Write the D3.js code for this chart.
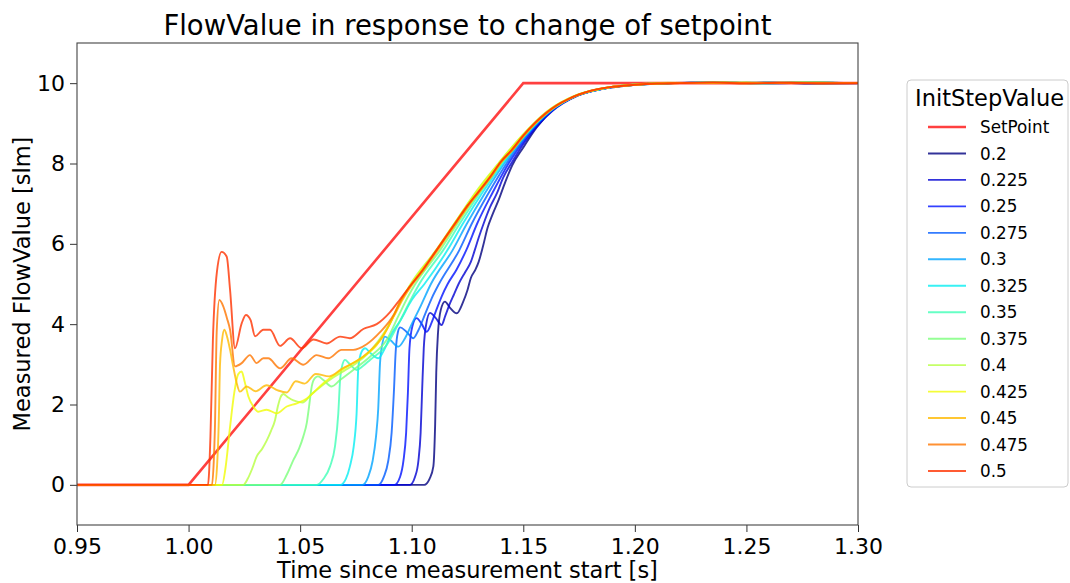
<!DOCTYPE html>
<meta charset="utf-8">
<html>
  <head>
    <title>FlowValue response</title>
    <script src="https://cdn.jsdelivr.net/npm/d3@7"></script>
    <style>
      body { margin: 0; background: white; }
      text { font-family: "DejaVu Sans", sans-serif; fill: #000; }
    </style>
  </head>
  <body>
    <div id="chart"></div>
    <script type="text/javascript">

        // x tick labels and y ticks
        var x_ticks = [0.95, 1.00, 1.05, 1.10, 1.15, 1.20, 1.25, 1.30];
        var y_ticks = [0, 2, 4, 6, 8, 10];

        // setpoint ramp
        var setpoint_times = [0.95, 1.00, 1.15, 1.30];
        var setpoint_values = [0, 0, 10, 10];

        // legend categories
        var init_step_values = ["0.2", "0.225", "0.25", "0.275", "0.3", "0.325", "0.35",
                                "0.375", "0.4", "0.425", "0.45", "0.475", "0.5"];

        // measured flow, [time, value]
        var flow_0200 = [[0.95,0],[1.1056,0],[1.1080,0.15],[1.1097,0.46],[1.1105,1.5],[1.1110,2.8],[1.1118,3.8],[1.1130,4.35],[1.1149,4.56],[1.1170,4.42],[1.1202,4.27],[1.1230,4.55],[1.1250,4.85],[1.1265,5.15],[1.1285,5.35],[1.1300,5.55],[1.1320,5.95],[1.1340,6.40],[1.1360,6.70],[1.1390,7.10],[1.1420,7.55],[1.1450,7.95],[1.1500,8.40],[1.1560,8.90],[1.1635,9.35],[1.1724,9.65],[1.1830,9.83],[1.1950,9.93],[1.2100,9.99],[1.2250,10.01],[1.2400,10.0],[1.26,10.02],[1.28,9.99],[1.30,10.0]];
        var flow_0225 = [[0.95,0],[1.0992,0],[1.1015,0.2],[1.1030,0.6],[1.1040,1.3],[1.1047,2.4],[1.1054,3.4],[1.1065,4.0],[1.1082,4.28],[1.1108,4.15],[1.1134,3.98],[1.1150,4.20],[1.1170,4.50],[1.1190,4.75],[1.1210,5.0],[1.1240,5.30],[1.1265,5.55],[1.1283,5.85],[1.1300,6.15],[1.1322,6.5],[1.1350,6.90],[1.1382,7.26],[1.1410,7.65],[1.1446,8.0],[1.1490,8.40],[1.1528,8.7],[1.1629,9.3],[1.1749,9.7],[1.1897,9.9],[1.2030,9.97],[1.2180,10.0],[1.24,10.01],[1.26,10.0],[1.28,10.02],[1.30,10.0]];
        var flow_0250 = [[0.95,0],[1.0923,0],[1.0948,0.2],[1.0963,0.6],[1.0975,1.3],[1.0983,2.3],[1.0990,3.4],[1.1003,3.95],[1.1022,4.15],[1.1045,4.00],[1.1067,3.81],[1.1090,4.05],[1.1110,4.35],[1.1135,4.70],[1.1161,5.0],[1.1200,5.35],[1.1245,5.85],[1.1293,6.5],[1.1361,7.26],[1.1434,8.0],[1.1522,8.7],[1.1625,9.3],[1.1747,9.7],[1.1896,9.9],[1.2020,9.96],[1.2170,10.0],[1.235,10.02],[1.255,10.0],[1.275,10.01],[1.30,10.0]];
        var flow_0275 = [[0.95,0],[1.0850,0],[1.0875,0.2],[1.0895,0.6],[1.0910,1.3],[1.0920,2.3],[1.0928,3.30],[1.0938,3.80],[1.0948,3.92],[1.0975,3.82],[1.1007,3.65],[1.1030,3.85],[1.1060,4.25],[1.1090,4.65],[1.1122,5.0],[1.1214,5.85],[1.1269,6.5],[1.1344,7.26],[1.1425,8.0],[1.1516,8.7],[1.1622,9.3],[1.1746,9.7],[1.1895,9.9],[1.2020,9.97],[1.2170,10.0],[1.24,10.01],[1.26,9.99],[1.28,10.01],[1.30,10.0]];
        var flow_0300 = [[0.95,0],[1.0779,0],[1.0805,0.2],[1.0825,0.6],[1.0840,1.2],[1.0850,1.9],[1.0858,3.03],[1.0868,3.50],[1.0880,3.69],[1.0905,3.60],[1.0940,3.44],[1.0970,3.65],[1.1000,4.00],[1.1040,4.45],[1.1086,5.0],[1.1184,5.85],[1.1247,6.5],[1.1328,7.26],[1.1415,8.0],[1.1512,8.7],[1.1620,9.3],[1.1744,9.7],[1.1893,9.9],[1.2010,9.96],[1.2160,10.0],[1.235,10.02],[1.255,10.0],[1.275,10.01],[1.30,10.0]];
        var flow_0325 = [[0.95,0],[1.0680,0],[1.0705,0.15],[1.0723,0.46],[1.0740,0.95],[1.0753,1.78],[1.0761,2.94],[1.0776,3.32],[1.0791,3.40],[1.0815,3.28],[1.0850,3.15],[1.0880,3.40],[1.0903,3.69],[1.0950,4.10],[1.1000,4.60],[1.1057,5.0],[1.1161,5.85],[1.1229,6.5],[1.1315,7.26],[1.1408,8.0],[1.1508,8.7],[1.1617,9.3],[1.1743,9.7],[1.1893,9.9],[1.2010,9.96],[1.2160,10.0],[1.23,10.01],[1.25,10.0],[1.27,10.02],[1.30,10.0]];
        var flow_0350 = [[0.95,0],[1.0575,0],[1.0605,0.15],[1.0634,0.46],[1.0656,0.95],[1.0671,1.78],[1.0679,2.61],[1.0690,3.00],[1.0701,3.11],[1.0720,3.02],[1.0753,2.86],[1.0780,2.95],[1.0813,3.11],[1.0888,3.48],[1.0940,4.00],[1.0990,4.55],[1.1034,5.0],[1.1142,5.85],[1.1215,6.5],[1.1305,7.26],[1.1402,8.0],[1.1505,8.7],[1.1616,9.3],[1.1742,9.7],[1.1892,9.9],[1.2010,9.97],[1.2160,10.0],[1.24,10.02],[1.26,10.0],[1.28,10.01],[1.30,10.0]];
        var flow_0375 = [[0.95,0],[1.0410,0],[1.0440,0.25],[1.0470,0.62],[1.0495,0.90],[1.0514,1.20],[1.0530,1.55],[1.0540,1.95],[1.0552,2.45],[1.0565,2.65],[1.0580,2.70],[1.0604,2.61],[1.0641,2.45],[1.0679,2.61],[1.0738,2.86],[1.0813,3.19],[1.0888,3.61],[1.0940,4.20],[1.0985,4.70],[1.1016,5.0],[1.1128,5.85],[1.1204,6.5],[1.1297,7.26],[1.1398,8.0],[1.1503,8.7],[1.1614,9.3],[1.1741,9.7],[1.1890,9.9],[1.2000,9.96],[1.2150,10.0],[1.235,10.01],[1.255,9.99],[1.275,10.01],[1.30,10.0]];
        var flow_0400 = [[0.95,0],[1.0245,0],[1.0265,0.15],[1.0285,0.40],[1.0305,0.70],[1.0330,0.90],[1.0350,1.10],[1.0370,1.35],[1.0387,1.60],[1.0400,1.95],[1.0412,2.18],[1.0425,2.26],[1.0445,2.18],[1.0470,2.10],[1.0510,2.05],[1.0550,2.25],[1.0600,2.48],[1.0650,2.68],[1.0700,2.85],[1.0750,3.02],[1.0800,3.25],[1.0850,3.58],[1.0900,4.00],[1.0950,4.55],[1.0995,5.0],[1.1110,5.85],[1.1190,6.5],[1.1283,7.26],[1.1388,8.0],[1.1495,8.7],[1.1607,9.3],[1.1737,9.7],[1.1885,9.9],[1.2000,9.97],[1.2150,10.01],[1.23,10.0],[1.25,10.02],[1.27,10.0],[1.30,10.0]];
        var flow_0425 = [[0.95,0],[1.0150,0],[1.0165,0.4],[1.0185,1.4],[1.0205,2.3],[1.0222,2.75],[1.0238,2.82],[1.0250,2.6],[1.0268,2.20],[1.0290,1.95],[1.0312,1.82],[1.0350,1.87],[1.0395,1.78],[1.0440,1.95],[1.0485,2.03],[1.0530,2.15],[1.0560,2.30],[1.0604,2.53],[1.0664,2.78],[1.0723,2.99],[1.0783,3.19],[1.0843,3.48],[1.0903,4.02],[1.0950,4.58],[1.0998,5.0],[1.1112,5.85],[1.1191,6.5],[1.1286,7.26],[1.1390,8.0],[1.1497,8.7],[1.1610,9.3],[1.1739,9.7],[1.1888,9.9],[1.2000,9.96],[1.2150,10.0],[1.235,10.01],[1.255,10.0],[1.275,10.02],[1.30,10.0]];
        var flow_0450 = [[0.95,0],[1.0118,0],[1.0128,0.5],[1.0135,1.5],[1.0141,3.0],[1.0150,3.60],[1.0160,3.86],[1.0172,3.70],[1.0186,3.36],[1.0200,2.95],[1.0215,2.55],[1.0230,2.32],[1.0260,2.45],[1.0300,2.33],[1.0350,2.48],[1.0400,2.35],[1.0440,2.30],[1.0480,2.58],[1.0520,2.52],[1.0570,2.76],[1.0630,2.70],[1.0690,2.90],[1.0750,3.07],[1.0810,3.32],[1.0870,3.69],[1.0920,4.20],[1.0960,4.62],[1.1005,5.0],[1.1055,5.35],[1.1105,5.75],[1.1155,6.15],[1.1205,6.55],[1.1255,6.95],[1.1305,7.30],[1.1355,7.65],[1.1405,8.05],[1.1455,8.35],[1.1505,8.70],[1.1555,9.0],[1.1605,9.25],[1.1655,9.45],[1.1705,9.60],[1.1755,9.72],[1.1805,9.81],[1.1905,9.91],[1.2005,9.96],[1.2105,9.99],[1.2205,10.0],[1.24,10.02],[1.26,10.0],[1.28,10.01],[1.30,10.0]];
        var flow_0475 = [[0.95,0],[1.0105,0],[1.0113,0.6],[1.0118,1.4],[1.0126,3.8],[1.0138,4.60],[1.0155,4.45],[1.0172,4.15],[1.0186,3.86],[1.0208,2.95],[1.0238,3.03],[1.0275,3.23],[1.0305,3.03],[1.0335,3.15],[1.0357,3.15],[1.0410,2.90],[1.0462,3.15],[1.0514,2.99],[1.0574,3.23],[1.0626,3.15],[1.0686,3.36],[1.0738,3.36],[1.0798,3.50],[1.0858,3.80],[1.0918,4.22],[1.0950,4.58],[1.1000,5.0],[1.1050,5.36],[1.1100,5.76],[1.1150,6.16],[1.1200,6.56],[1.1250,6.95],[1.1300,7.30],[1.1350,7.66],[1.1400,8.04],[1.1450,8.34],[1.1500,8.69],[1.1550,8.99],[1.1600,9.24],[1.1650,9.45],[1.1700,9.60],[1.1750,9.72],[1.1800,9.81],[1.1900,9.91],[1.2000,9.96],[1.2100,9.99],[1.2200,10.0],[1.24,10.01],[1.255,10.0],[1.27,10.02],[1.285,9.99],[1.30,10.0]];
        var flow_0500 = [[0.95,0],[1.0087,0],[1.0098,1.2],[1.0109,3.6],[1.0127,5.3],[1.0148,5.80],[1.0171,5.68],[1.0186,4.85],[1.0208,3.40],[1.0238,4.02],[1.0257,4.23],[1.0278,4.10],[1.0298,3.70],[1.0335,3.86],[1.0365,3.86],[1.0410,3.46],[1.0455,3.65],[1.0507,3.40],[1.0560,3.62],[1.0619,3.52],[1.0679,3.69],[1.0723,3.65],[1.0783,3.88],[1.0843,4.00],[1.0903,4.30],[1.0948,4.62],[1.1000,5.0],[1.1050,5.35],[1.1100,5.75],[1.1150,6.15],[1.1200,6.55],[1.1250,6.95],[1.1300,7.30],[1.1350,7.65],[1.1400,8.05],[1.1450,8.35],[1.1500,8.70],[1.1550,9.0],[1.1600,9.25],[1.1650,9.45],[1.1700,9.60],[1.1750,9.72],[1.1800,9.81],[1.1900,9.91],[1.2000,9.96],[1.2100,9.99],[1.2200,10.0],[1.235,10.02],[1.25,9.99],[1.265,10.01],[1.28,10.0],[1.30,10.0]];

        var flow_series = [flow_0200, flow_0225, flow_0250, flow_0275, flow_0300, flow_0325, flow_0350,
                           flow_0375, flow_0400, flow_0425, flow_0450, flow_0475, flow_0500];

        // jet colormap samples
        var colors = ["#000080", "#0000d2", "#0012ff", "#005bff", "#00a4ff", "#06edf1", "#40ffb6",
                      "#7bff7b", "#b6ff41", "#f1fc06", "#ffb900", "#ff7500", "#ff3200"];

        var total_width = 1070, total_height = 583;
        var plot = {left: 77, right: 858, top: 43, bottom: 525};

        var svg = d3.select("#chart").append("svg")
            .attr("width", total_width)
            .attr("height", total_height);

        var x_scale = d3.scaleLinear().domain([0.95, 1.30]).range([plot.left, plot.right]);
        var y_scale = d3.scaleLinear().domain([-1, 11]).range([plot.bottom, plot.top]);

        svg.append("defs").append("clipPath").attr("id", "clip")
            .append("rect")
            .attr("x", plot.left).attr("y", plot.top)
            .attr("width", plot.right - plot.left).attr("height", plot.bottom - plot.top);

        var line = d3.line()
            .x(function(d){ return x_scale(d[0]); })
            .y(function(d){ return y_scale(d[1]); })
            .curve(d3.curveMonotoneX);

        var lines_g = svg.append("g").attr("clip-path", "url(#clip)");

        //Setpoint
        lines_g.append("path")
            .attr("d", d3.line().x(function(d){ return x_scale(d); }).y(function(d, i){ return y_scale(setpoint_values[i]); })(setpoint_times))
            .attr("fill", "none")
            .attr("stroke", "red")
            .attr("stroke-opacity", 0.75)
            .attr("stroke-width", 2.6);

        //Flow lines
        lines_g.selectAll(".flow")
            .data(flow_series)
            .enter().append("path")
            .attr("class", "flow")
            .attr("d", function(d){ return line(d); })
            .attr("fill", "none")
            .attr("stroke", function(d, i){ return colors[i]; })
            .attr("stroke-opacity", 0.8)
            .attr("stroke-width", 1.9)
            .attr("stroke-linejoin", "round");

        //Axes
        var x_axis = d3.axisBottom(x_scale).tickValues(x_ticks).tickFormat(d3.format(".2f"))
            .tickSize(7).tickPadding(6);
        var y_axis = d3.axisLeft(y_scale).tickValues(y_ticks).tickFormat(d3.format("d"))
            .tickSize(7).tickPadding(5);

        var gx = svg.append("g").attr("transform", "translate(0," + plot.bottom + ")").call(x_axis);
        var gy = svg.append("g").attr("transform", "translate(" + plot.left + ",0)").call(y_axis);
        [gx, gy].forEach(function(g){
            g.select(".domain").remove();
            g.selectAll(".tick line").attr("stroke", "#333").attr("stroke-width", 1);
            g.selectAll(".tick text").style("font-size", "22px").attr("fill", "#000");
        });

        //Frame
        svg.append("rect")
            .attr("x", plot.left).attr("y", plot.top)
            .attr("width", plot.right - plot.left).attr("height", plot.bottom - plot.top)
            .attr("fill", "none").attr("stroke", "#444").attr("stroke-width", 1.1);

        //Titles
        svg.append("text")
            .attr("x", (plot.left + plot.right) / 2).attr("y", 35)
            .attr("text-anchor", "middle")
            .style("font-size", "27.5px")
            .text("FlowValue in response to change of setpoint");

        svg.append("text")
            .attr("x", (plot.left + plot.right) / 2).attr("y", 578)
            .attr("text-anchor", "middle")
            .style("font-size", "22.5px")
            .text("Time since measurement start [s]");

        svg.append("text")
            .attr("transform", "translate(30," + ((plot.top + plot.bottom) / 2) + ") rotate(-90)")
            .attr("text-anchor", "middle")
            .style("font-size", "22.5px")
            .text("Measured FlowValue [slm]");

        //Legend
        var legend = svg.append("g").attr("transform", "translate(907,80)");
        legend.append("rect")
            .attr("width", 161).attr("height", 407)
            .attr("rx", 4)
            .attr("fill", "white").attr("fill-opacity", 0.8)
            .attr("stroke", "#cccccc").attr("stroke-width", 1);
        legend.append("text")
            .attr("x", 8).attr("y", 26)
            .style("font-size", "22.5px")
            .text("InitStepValue");

        var legend_labels = ["SetPoint"].concat(init_step_values);
        var legend_rows = legend.selectAll(".row")
            .data(legend_labels)
            .enter().append("g")
            .attr("class", "row")
            .attr("transform", function(d, i){ return "translate(0," + (47 + i * 26.46) + ")"; });

        legend_rows.append("line")
            .attr("x1", 21).attr("x2", 59)
            .attr("stroke", function(d, i){ return i == 0 ? "red" : colors[i - 1]; })
            .attr("stroke-opacity", function(d, i){ return i == 0 ? 0.75 : 0.8; })
            .attr("stroke-width", function(d, i){ return i == 0 ? 2.6 : 1.9; });

        legend_rows.append("text")
            .attr("x", 73).attr("dy", "0.36em")
            .style("font-size", "16.8px")
            .text(function(d){ return d; });

    </script>
  </body>
</html>
